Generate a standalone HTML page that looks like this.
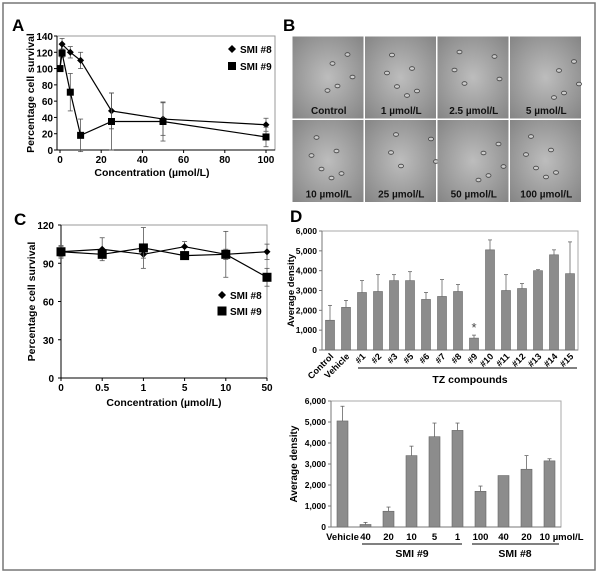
<!DOCTYPE html>
<html><head><meta charset="utf-8"><style>
body{margin:0;background:#fff}
svg{display:block;font-family:"Liberation Sans",Arial,sans-serif}
</style></head><body>
<svg id="fig" width="600" height="574" viewBox="0 0 600 574">
<rect x="3" y="3" width="592" height="567" fill="#fff" stroke="#777" stroke-width="1.5"/>
<g id="gA"></g>
<g id="gB"></g>
<g id="gC"></g>
<g id="gD1"></g>
<g id="gD2"></g>
</svg>
<script>
// Panel A data
const aX = [0, 1, 5, 10, 25, 50, 100];
const aSmi8 = [100, 130, 120, 110, 48, 38, 31];
const aSmi8Err = [0, 7, 7, 10, 22, 20, 8];
const aSmi9 = [100, 119, 71, 18, 35, 35, 16];
const aSmi9Err = [0, 5, 23, 20, 35, 24, 12];
const aYTicks = [0, 20, 40, 60, 80, 100, 120, 140];
const aXTicks = [0, 20, 40, 60, 80, 100];
// Panel C data
const cCats = ["0", "0.5", "1", "5", "10", "50"];
const cSmi8 = [99, 101, 97, 103, 97, 99];
const cSmi8Err = [5, 9, 3, 4, 4, 6];
const cSmi9 = [99, 97, 102, 96, 97, 79];
const cSmi9Err = [4, 3, 16, 3, 18, 7];
const cYTicks = [0, 30, 60, 90, 120];
// Panel D top data
const d1Cats = ["Control","Vehicle","#1","#2","#3","#5","#6","#7","#8","#9","#10","#11","#12","#13","#14","#15"];
const d1Vals = [1500,2150,2900,2950,3500,3500,2550,2700,2950,600,5050,3000,3100,4000,4800,3850];
const d1Err = [750,350,600,850,300,450,350,850,350,150,500,800,250,50,250,1600];
const dYTicks = [0,1000,2000,3000,4000,5000,6000];
const dYLabels = ["0","1,000","2,000","3,000","4,000","5,000","6,000"];
// Panel D bottom data
const d2Cats = ["Vehicle","40","20","10","5","1","100","40","20","10 µmol/L"];
const d2Vals = [5050,120,750,3400,4300,4600,1700,2450,2750,3150];
const d2Err = [700,100,200,450,650,350,250,0,650,100];

const NS="http://www.w3.org/2000/svg";
function mk(parent,tag,attrs,text){const e=document.createElementNS(NS,tag);for(const k in attrs)e.setAttribute(k,attrs[k]);if(text!==undefined)e.textContent=text;parent.appendChild(e);return e;}
function lin(d0,d1,r0,r1){return v=>r0+(v-d0)/(d1-d0)*(r1-r0);}
function diamond(g,x,y,s){return mk(g,"polygon",{points:`${x},${y-s} ${x+s},${y} ${x},${y+s} ${x-s},${y}`,fill:"#000"});}
function square(g,x,y,s){return mk(g,"rect",{x:x-s,y:y-s,width:2*s,height:2*s,fill:"#000"});}
function errBar(g,x,y0,y1){mk(g,"line",{x1:x,x2:x,y1:y0,y2:y1,stroke:"#555","stroke-width":0.8});mk(g,"line",{x1:x-2.5,x2:x+2.5,y1:y1,y2:y1,stroke:"#555","stroke-width":0.8});}

// ---------- Panel A ----------
(function(){
const g=document.getElementById("gA");
const L=57,R=275,T=36,B=150;
const xs=lin(0,100,L+3,R-9), ys=lin(0,140,B,T);
let e=mk(g,"text",{x:12,y:31,"font-size":17,"font-weight":"bold"},"A");

e=mk(g,"rect",{x:L,y:T,width:R-L,height:B-T,fill:"#fff",stroke:"#999"});

mk(g,"line",{x1:L,x2:L,y1:T,y2:B,stroke:"#000"});mk(g,"line",{x1:L,x2:R,y1:B,y2:B,stroke:"#000"});
aYTicks.forEach(t=>{const y=ys(t);mk(g,"line",{x1:L-3,x2:L,y1:y,y2:y,stroke:"#000"});
 const tx=mk(g,"text",{x:L-4,y:y+4,"font-size":10,"font-weight":"bold","text-anchor":"end"},t);
 });
aXTicks.forEach(t=>{const x=xs(t);mk(g,"line",{x1:x,x2:x,y1:B,y2:B+3,stroke:"#000"});
 const tx=mk(g,"text",{x:x,y:B+13,"font-size":10,"font-weight":"bold","text-anchor":"middle"},t);
 });
e=mk(g,"text",{x:152,y:176,"font-size":10.5,"font-weight":"bold","text-anchor":"middle"},"Concentration (µmol/L)");

e=mk(g,"text",{transform:`translate(34,${(T+B)/2}) rotate(-90)`,"font-size":10.5,"font-weight":"bold","text-anchor":"middle"},"Percentage cell survival");

[[aSmi8,aSmi8Err,diamond,3.5,"smi8"],[aSmi9,aSmi9Err,square,3.5,"smi9"]].forEach(([v,er,fn,s,n])=>{
 v.forEach((d,i)=>{if(er[i]>0){errBar(g,xs(aX[i]),ys(d-er[i]),ys(d+er[i]));mk(g,"line",{x1:xs(aX[i])-2.5,x2:xs(aX[i])+2.5,y1:ys(d-er[i]),y2:ys(d-er[i]),stroke:"#555","stroke-width":0.8});}});
 const p=mk(g,"polyline",{points:v.map((d,i)=>xs(aX[i])+","+ys(d)).join(" "),fill:"none",stroke:"#000","stroke-width":1.2});
 
 v.forEach((d,i)=>{const m=fn(g,xs(aX[i]),ys(d),s);});
});
diamond(g,232,49,4);e=mk(g,"text",{x:240,y:53,"font-size":10,"font-weight":"bold"},"SMI #8");

square(g,232,66,4);e=mk(g,"text",{x:240,y:70,"font-size":10,"font-weight":"bold"},"SMI #9");

})();

// ---------- Panel B ----------
(function(){
const g=document.getElementById("gB");
let e=mk(g,"text",{x:283,y:31,"font-size":17,"font-weight":"bold"},"B");

const defs=mk(g,"defs",{});
const rg=mk(defs,"radialGradient",{id:"micro",cx:"50%",cy:"50%",r:"70%"});
mk(rg,"stop",{offset:"0%","stop-color":"#bdbdbd"});mk(rg,"stop",{offset:"100%","stop-color":"#858585"});
const labels=["Control","1 µmol/L","2.5 µmol/L","5 µmol/L","10 µmol/L","25 µmol/L","50 µmol/L","100 µmol/L"];
const X0=292,Y0=36,W=290,H=167,cw=W/4,ch=H/2;
mk(g,"rect",{x:X0,y:Y0,width:W,height:H,fill:"#fff"});
const cells=[[20,15],[40,30],[55,20],[25,50],[45,55],[60,45],[15,35],[35,60]];
labels.forEach((l,i)=>{const c=i%4,r=Math.floor(i/4);const x=X0+c*cw+0.5,y=Y0+r*ch+0.5;
 const im=mk(g,"rect",{x:x,y:y,width:cw-1.5,height:ch-1.5,fill:"url(#micro)"});
 
 cells.forEach(([a,b],k)=>{if((k+i)%3!==0)mk(g,"ellipse",{cx:x+a+(i*7)%12,cy:y+b*0.9+(i*5)%8,rx:2.5,ry:1.8,fill:"#ccc",stroke:"#444","stroke-width":0.8});});
 const t=mk(g,"text",{x:x+cw/2,y:y+ch-6,"font-size":10,"font-weight":"bold","text-anchor":"middle",fill:"#111"},l);
 
});
})();

// ---------- Panel C ----------
(function(){
const g=document.getElementById("gC");
const L=61,R=267,T=225,B=378;
const xs=i=>L+i*(R-L)/(cCats.length-1), ys=lin(0,120,B,T);
let e=mk(g,"text",{x:14,y:225,"font-size":17,"font-weight":"bold"},"C");

e=mk(g,"rect",{x:L,y:T,width:R-L,height:B-T,fill:"#fff",stroke:"#999"});

mk(g,"line",{x1:L,x2:L,y1:T,y2:B,stroke:"#000"});mk(g,"line",{x1:L,x2:R,y1:B,y2:B,stroke:"#000"});
cYTicks.forEach(t=>{const y=ys(t);mk(g,"line",{x1:L-3,x2:L,y1:y,y2:y,stroke:"#000"});
 const tx=mk(g,"text",{x:L-7,y:y+4,"font-size":10,"font-weight":"bold","text-anchor":"end"},t);
 });
cCats.forEach((t,i)=>{const x=xs(i);mk(g,"line",{x1:x,x2:x,y1:B,y2:B+3,stroke:"#000"});
 const tx=mk(g,"text",{x:x,y:B+13,"font-size":10,"font-weight":"bold","text-anchor":"middle"},t);
 });
e=mk(g,"text",{x:164,y:406,"font-size":10.5,"font-weight":"bold","text-anchor":"middle"},"Concentration (µmol/L)");

e=mk(g,"text",{transform:`translate(35,${(T+B)/2}) rotate(-90)`,"font-size":10.5,"font-weight":"bold","text-anchor":"middle"},"Percentage cell survival");

[[cSmi8,cSmi8Err,diamond,3.5,"smi8"],[cSmi9,cSmi9Err,square,4.5,"smi9"]].forEach(([v,er,fn,s,n])=>{
 v.forEach((d,i)=>{errBar(g,xs(i),ys(d-er[i]),ys(d+er[i]));mk(g,"line",{x1:xs(i)-2.5,x2:xs(i)+2.5,y1:ys(d-er[i]),y2:ys(d-er[i]),stroke:"#555","stroke-width":0.8});});
 const p=mk(g,"polyline",{points:v.map((d,i)=>xs(i)+","+ys(d)).join(" "),fill:"none",stroke:"#000","stroke-width":1.2});
 
 v.forEach((d,i)=>{const m=fn(g,xs(i),ys(d),s);});
});
diamond(g,222,295,4);e=mk(g,"text",{x:230,y:299,"font-size":10,"font-weight":"bold"},"SMI #8");

square(g,222,311,4.5);e=mk(g,"text",{x:230,y:315,"font-size":10,"font-weight":"bold"},"SMI #9");

})();

// ---------- Bar chart helper ----------
function bars(g,vals,errs,L,R,T,B,bw,nm){
 const ys=lin(0,6000,B,T), step=(R-L)/vals.length, xs=i=>L+step*(i+0.5);
 let e=mk(g,"rect",{x:L,y:T,width:R-L,height:B-T,fill:"#fff",stroke:"#aaa"});
 
 mk(g,"line",{x1:L,x2:L,y1:T,y2:B,stroke:"#777"});mk(g,"line",{x1:L,x2:R,y1:B,y2:B,stroke:"#777"});
 dYTicks.forEach((t,k)=>{const y=ys(t);mk(g,"line",{x1:L-3,x2:L,y1:y,y2:y,stroke:"#777"});
  const tx=mk(g,"text",{x:L-5,y:y+3,"font-size":8.5,"font-weight":"bold","text-anchor":"end"},dYLabels[k]);
  });
 vals.forEach((v,i)=>{const x=xs(i);
  if(errs[i]>0){mk(g,"line",{x1:x,x2:x,y1:ys(v),y2:ys(v+errs[i]),stroke:"#666","stroke-width":0.8});mk(g,"line",{x1:x-2,x2:x+2,y1:ys(v+errs[i]),y2:ys(v+errs[i]),stroke:"#666","stroke-width":0.8});}
  const b=mk(g,"rect",{x:x-bw/2,y:ys(v),width:bw,height:B-ys(v),fill:"#8c8c8c",stroke:"#666","stroke-width":0.6});
  
 });
 return {xs,ys};
}

// ---------- Panel D top ----------
(function(){
const g=document.getElementById("gD1");
const L=322,R=578,T=231,B=350;
let e=mk(g,"text",{x:290,y:222,"font-size":17,"font-weight":"bold"},"D");

const {xs,ys}=bars(g,d1Vals,d1Err,L,R,T,B,9,"d-top");
d1Cats.forEach((c,i)=>{const t=mk(g,"text",{transform:`translate(${xs(i)+4},${B+7}) rotate(-45)`,"font-size":9,"font-weight":"bold","text-anchor":"end"},c);
 });
const i9=d1Cats.indexOf("#9");
e=mk(g,"text",{x:xs(i9),y:ys(d1Vals[i9]+d1Err[i9])-3,"font-size":13,"text-anchor":"middle",fill:"#444"},"*");

e=mk(g,"text",{transform:`translate(294,${(T+B)/2}) rotate(-90)`,"font-size":9.5,"font-weight":"bold","text-anchor":"middle"},"Average density");

mk(g,"line",{x1:358,x2:577,y1:368,y2:368,stroke:"#000","stroke-width":1});
e=mk(g,"text",{x:470,y:383,"font-size":10.5,"font-weight":"bold","text-anchor":"middle"},"TZ compounds");

})();

// ---------- Panel D bottom ----------
(function(){
const g=document.getElementById("gD2");
const L=331,R=561,T=401,B=527;
const {xs}=bars(g,d2Vals,d2Err,L,R,T,B,11,"d-bottom");
d2Cats.forEach((c,i)=>{const t=mk(g,"text",{x:xs(i)+(i===d2Cats.length-1?12:0),y:B+13,"font-size":9.5,"font-weight":"bold","text-anchor":"middle"},c);
 });
let e=mk(g,"text",{transform:`translate(297,${(T+B)/2}) rotate(-90)`,"font-size":10,"font-weight":"bold","text-anchor":"middle"},"Average density");

mk(g,"line",{x1:362,x2:462,y1:544,y2:544,stroke:"#000","stroke-width":1});
mk(g,"line",{x1:472,x2:559,y1:544,y2:544,stroke:"#000","stroke-width":1});
e=mk(g,"text",{x:412,y:557,"font-size":10.5,"font-weight":"bold","text-anchor":"middle"},"SMI #9");

e=mk(g,"text",{x:515,y:557,"font-size":10.5,"font-weight":"bold","text-anchor":"middle"},"SMI #8");

})();
</script>
</body></html>
